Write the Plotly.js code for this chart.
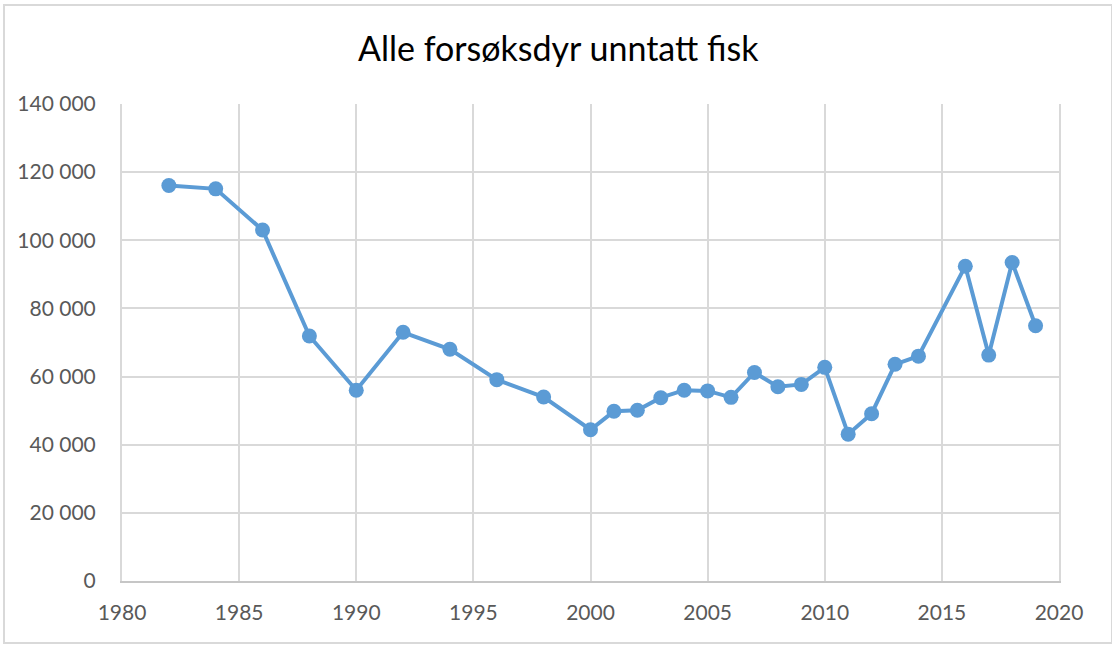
<!DOCTYPE html>
<html>
<head>
<meta charset="utf-8">
<script src="https://cdn.plot.ly/plotly-3.0.1.min.js"></script>
<style>
html,body{margin:0;padding:0;background:#fff;}
#wrap{position:relative;width:1112px;height:652px;}
#chart{position:absolute;left:0;top:0;width:1112px;height:652px;}
#frame{position:absolute;left:3px;top:4px;width:1106px;height:636px;border:2px solid #d9d9d9;pointer-events:none;}
</style>
</head>
<body>
<div id="wrap"><div id="chart"></div><div id="frame"></div></div>
<script>
const title = "Alle forsøksdyr unntatt fisk";
const years = [1982, 1984, 1986, 1988, 1990, 1992, 1994, 1996, 1998, 2000, 2001, 2002, 2003, 2004, 2005, 2006, 2007, 2008, 2009, 2010, 2011, 2012, 2013, 2014, 2016, 2017, 2018, 2019];
const animals = [116100, 115100, 103000, 71900, 56000, 73000, 68000, 59100, 54000, 44400, 49800, 50100, 53800, 56000, 55800, 53900, 61200, 57000, 57700, 62700, 43100, 49100, 63600, 66000, 92400, 66300, 93500, 74900];
const xTickVals = [1980, 1985, 1990, 1995, 2000, 2005, 2010, 2015, 2020];
const yTickVals = [0, 20000, 40000, 60000, 80000, 100000, 120000, 140000];

const trace = {
  x: years, y: animals, type: 'scatter', mode: 'lines+markers',
  line: {color: '#5b9bd5', width: 4},
  marker: {color: '#5b9bd5', size: 15},
  hoverinfo: 'x+y'
};
const tickFont = {family: 'Lato, "Open Sans", sans-serif', size: 21, color: '#595959'};
const layout = {
  width: 1112, height: 652,
  margin: {l: 122, r: 53, t: 104, b: 71},
  paper_bgcolor: '#ffffff', plot_bgcolor: '#ffffff',
  separators: ', ',
  showlegend: false,
  title: {text: title, x: 0.502, xanchor: 'center', y: 0.925, yanchor: 'middle',
          font: {family: 'Lato, "Open Sans", sans-serif', size: 34, color: '#000000'}},
  xaxis: {range: [1980, 2020], tickvals: xTickVals, showgrid: true, gridcolor: '#d9d9d9', gridwidth: 2,
          zeroline: false, showline: true, linecolor: '#c6c6c6', linewidth: 2, mirror: false,
          ticks: '', tickfont: tickFont, ticklabelstandoff: 12},
  yaxis: {range: [0, 140000], tickvals: yTickVals, tickformat: ',.0f', showgrid: true, gridcolor: '#d9d9d9', gridwidth: 2,
          zeroline: false, showline: true, linecolor: '#d9d9d9', linewidth: 2, mirror: true,
          ticks: '', tickfont: tickFont, ticklabelstandoff: 20}
};
Plotly.newPlot('chart', [trace], layout, {displayModeBar: false, staticPlot: true});
</script>
</body>
</html>
